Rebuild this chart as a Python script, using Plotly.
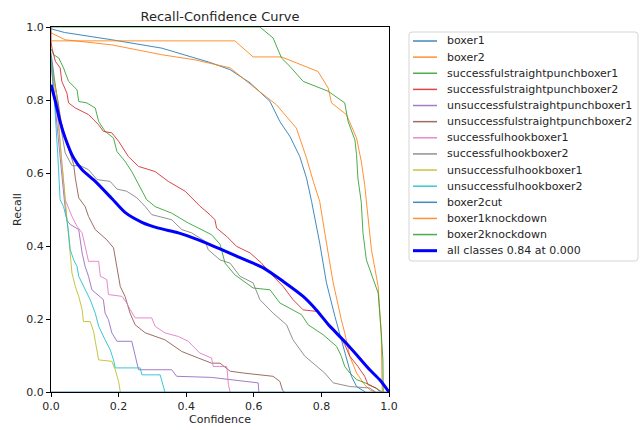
import plotly.graph_objects as go

# ---------------- data ----------------
class_names = [
    "boxer1", "boxer2", "successfulstraightpunchboxer1", "successfulstraightpunchboxer2",
    "unsuccessfulstraightpunchboxer1", "unsuccessfulstraightpunchboxer2",
    "successfulhookboxer1", "successfulhookboxer2", "unsuccessfulhookboxer1",
    "unsuccessfulhookboxer2", "boxer2cut", "boxer1knockdown", "boxer2knockdown",
]
all_label = "all classes 0.84 at 0.000"

boxer1_x = [0, 0.04, 0.18, 0.328, 0.426, 0.47, 0.53, 0.589, 0.648, 0.677, 0.707, 0.736, 0.756, 0.771,
            0.795, 0.815, 0.840, 0.859, 0.874, 0.889, 0.904, 0.92, 0.93]
boxer1_y = [0.995, 0.985, 0.965, 0.942, 0.915, 0.903, 0.883, 0.847, 0.796, 0.741, 0.700, 0.645, 0.586, 0.522,
            0.408, 0.299, 0.207, 0.143, 0.088, 0.043, 0.015, 0.005, 0.0]

boxer2_x = [0, 0.042, 0.18, 0.328, 0.426, 0.47, 0.53, 0.598, 0.667, 0.726, 0.756, 0.776, 0.795,
            0.815, 0.835, 0.859, 0.869, 0.884, 0.904, 0.928, 0.945, 0.96]
boxer2_y = [0.984, 0.965, 0.951, 0.924, 0.910, 0.901, 0.888, 0.837, 0.787, 0.723, 0.641, 0.577, 0.522,
            0.408, 0.299, 0.198, 0.162, 0.098, 0.052, 0.02, 0.005, 0.0]

ssp1_x = [0, 0.008, 0.023, 0.037, 0.052, 0.077, 0.082, 0.106, 0.131, 0.141, 0.160, 0.185, 0.195, 0.219,
          0.239, 0.254, 0.269, 0.283, 0.308, 0.357, 0.406, 0.446, 0.475, 0.50, 0.515, 0.544, 0.598, 0.648,
          0.677, 0.741, 0.761, 0.805, 0.845, 0.859, 0.869, 0.884, 0.904, 0.943, 0.97, 0.98]
ssp1_y = [0.94, 0.924, 0.915, 0.888, 0.851, 0.828, 0.796, 0.792, 0.778, 0.741, 0.714, 0.696, 0.659, 0.632,
          0.604, 0.577, 0.554, 0.527, 0.508, 0.490, 0.463, 0.445, 0.431, 0.405, 0.353, 0.321, 0.285, 0.280,
          0.244, 0.212, 0.184, 0.157, 0.125, 0.098, 0.070, 0.052, 0.034, 0.02, 0.005, 0.0]

ssp2_x = [0, 0, 0.003, 0.013, 0.027, 0.032, 0.047, 0.052, 0.072, 0.111, 0.141, 0.155, 0.180, 0.200, 0.229,
          0.259, 0.308, 0.347, 0.397, 0.421, 0.441, 0.47, 0.485, 0.49, 0.52, 0.549, 0.589, 0.623, 0.648,
          0.687, 0.716, 0.746, 0.785, 0.810, 0.845, 0.869, 0.884, 0.908, 0.928, 0.938, 0.962, 0.975]
ssp2_y = [1.0, 0.96, 0.942, 0.906, 0.888, 0.851, 0.819, 0.792, 0.778, 0.760, 0.732, 0.714, 0.710, 0.687, 0.645,
          0.618, 0.604, 0.577, 0.550, 0.527, 0.509, 0.486, 0.472, 0.449, 0.426, 0.399, 0.381, 0.353, 0.326,
          0.289, 0.253, 0.225, 0.221, 0.198, 0.166, 0.130, 0.098, 0.070, 0.043, 0.02, 0.011, 0.0]

ussp1_x = [0, 0.01, 0.02, 0.03, 0.04, 0.047, 0.057, 0.082, 0.087, 0.092, 0.101, 0.111, 0.121, 0.136, 0.155,
           0.160, 0.170, 0.180, 0.195, 0.239, 0.249, 0.259, 0.357, 0.372, 0.475, 0.613, 0.615]
ussp1_y = [0.9, 0.8, 0.7, 0.6, 0.52, 0.47, 0.459, 0.445, 0.413, 0.381, 0.344, 0.317, 0.280, 0.267, 0.253,
           0.216, 0.198, 0.162, 0.139, 0.139, 0.098, 0.061, 0.061, 0.043, 0.04, 0.025, 0.0]

ussp2_x = [0, 0.008, 0.02, 0.03, 0.042, 0.052, 0.067, 0.072, 0.082, 0.101, 0.111, 0.131, 0.165, 0.185,
           0.195, 0.205, 0.219, 0.234, 0.249, 0.279, 0.337, 0.387, 0.436, 0.475, 0.5, 0.53, 0.569, 0.628,
           0.657, 0.677, 0.685, 0.69]
ussp2_y = [0.92, 0.86, 0.80, 0.74, 0.696, 0.668, 0.623, 0.586, 0.532, 0.508, 0.481, 0.445, 0.417, 0.395,
           0.344, 0.289, 0.262, 0.216, 0.184, 0.162, 0.143, 0.111, 0.093, 0.079, 0.079, 0.057, 0.052, 0.047,
           0.043, 0.029, 0.005, 0.0]

shb1_x = [0, 0.02, 0.035, 0.042, 0.062, 0.077, 0.092, 0.101, 0.111, 0.141, 0.146, 0.165, 0.170, 0.210,
          0.224, 0.234, 0.249, 0.298, 0.308, 0.337, 0.377, 0.406, 0.44, 0.475, 0.48, 0.52, 0.525, 0.53]
shb1_y = [0.9, 0.75, 0.6, 0.527, 0.481, 0.454, 0.436, 0.399, 0.358, 0.358, 0.317, 0.308, 0.267, 0.262,
          0.244, 0.226, 0.203, 0.203, 0.180, 0.162, 0.152, 0.139, 0.107, 0.093, 0.070, 0.070, 0.02, 0.0]

shb2_x = [0, 0.01, 0.02, 0.03, 0.042, 0.062, 0.087, 0.111, 0.136, 0.175, 0.195, 0.224, 0.254, 0.279,
          0.298, 0.357, 0.387, 0.416, 0.456, 0.465, 0.50, 0.53, 0.559, 0.598, 0.618, 0.657, 0.697, 0.716,
          0.751, 0.776, 0.810, 0.835, 0.884, 0.943, 0.96]
shb2_y = [0.93, 0.86, 0.78, 0.72, 0.655, 0.620, 0.620, 0.609, 0.582, 0.577, 0.556, 0.550, 0.532, 0.508,
          0.486, 0.472, 0.445, 0.436, 0.413, 0.39, 0.362, 0.353, 0.317, 0.299, 0.253, 0.216, 0.184, 0.143,
          0.098, 0.079, 0.052, 0.025, 0.015, 0.011, 0.0]

ushb1_x = [0, 0.017, 0.03, 0.042, 0.047, 0.052, 0.057, 0.062, 0.072, 0.082, 0.092, 0.096, 0.116, 0.126,
           0.131, 0.141, 0.180, 0.190, 0.200, 0.205]
ushb1_y = [0.9, 0.81, 0.65, 0.527, 0.472, 0.417, 0.372, 0.326, 0.289, 0.262, 0.226, 0.193, 0.193, 0.166,
           0.139, 0.088, 0.084, 0.061, 0.029, 0.0]

ushb2_x = [0, 0.01, 0.02, 0.027, 0.037, 0.047, 0.052, 0.057, 0.067, 0.077, 0.082, 0.101, 0.116, 0.131,
           0.141, 0.160, 0.175, 0.185, 0.190, 0.264, 0.269, 0.323, 0.337]
ushb2_y = [0.92, 0.8, 0.65, 0.527, 0.508, 0.472, 0.436, 0.390, 0.362, 0.344, 0.317, 0.280, 0.253, 0.216,
           0.180, 0.143, 0.116, 0.088, 0.066, 0.066, 0.047, 0.047, 0.0]

boxer2cut_x = [0, 1.0]
boxer2cut_y = [0.0, 0.0]

b1kd_x = [0, 0.544, 0.598, 0.682, 0.790, 0.820, 0.830, 0.874, 0.904, 0.918, 0.928, 0.933, 0.948, 0.968,
          0.977, 0.98]
b1kd_y = [0.962, 0.962, 0.918, 0.918, 0.878, 0.833, 0.792, 0.760, 0.696, 0.632, 0.568, 0.52, 0.390, 0.289,
          0.162, 0.0]

b2kd_x = [0, 0.618, 0.657, 0.682, 0.707, 0.746, 0.820, 0.869, 0.879, 0.899, 0.904, 0.908, 0.918, 0.923,
          0.933, 0.958, 0.968, 0.977, 0.982, 0.983]
b2kd_y = [1.0, 1.0, 0.970, 0.915, 0.892, 0.851, 0.824, 0.792, 0.741, 0.691, 0.650, 0.586, 0.52, 0.436,
          0.362, 0.299, 0.271, 0.162, 0.088, 0.0]

all_x = [0, 0.013, 0.027, 0.042, 0.067, 0.092, 0.131, 0.180, 0.219, 0.269, 0.318, 0.377, 0.436, 0.47, 0.5,
         0.549, 0.628, 0.687, 0.746, 0.785, 0.825, 0.864, 0.904, 0.943, 0.972, 1.0]
all_y = [0.842, 0.796, 0.741, 0.696, 0.641, 0.609, 0.577, 0.530, 0.492, 0.465, 0.449, 0.436, 0.417, 0.404,
         0.392, 0.372, 0.340, 0.303, 0.262, 0.225, 0.180, 0.143, 0.102, 0.061, 0.034, 0.0]

tick_vals = [0.0, 0.2, 0.4, 0.6, 0.8, 1.0]

# ---------------- styling ----------------
series = [
    (boxer1_x, boxer1_y), (boxer2_x, boxer2_y), (ssp1_x, ssp1_y), (ssp2_x, ssp2_y),
    (ussp1_x, ussp1_y), (ussp2_x, ussp2_y), (shb1_x, shb1_y), (shb2_x, shb2_y),
    (ushb1_x, ushb1_y), (ushb2_x, ushb2_y), (boxer2cut_x, boxer2cut_y), (b1kd_x, b1kd_y),
    (b2kd_x, b2kd_y),
]
tab10 = ["#1f77b4", "#ff7f0e", "#2ca02c", "#d62728", "#9467bd", "#8c564b",
         "#e377c2", "#7f7f7f", "#bcbd22", "#17becf"]
colors = [tab10[i % 10] for i in range(len(class_names))]

W, H = 643, 430
ML, MR, MT, MB = 51, 254, 27, 38
PW, PH = W - ML - MR, H - MT - MB
FONT = "DejaVu Sans, sans-serif"
TXT = "#262626"


def px_x(px):
    return (px - ML) / PW


def px_y(py):
    return (H - MB - py) / PH


fig = go.Figure()
for (xs, ys), name, col in zip(series, class_names, colors):
    fig.add_trace(go.Scatter(x=xs, y=ys, mode="lines", name=name,
                             line=dict(color=col, width=1), opacity=0.85, showlegend=False))
fig.add_trace(go.Scatter(x=all_x, y=all_y, mode="lines", name=all_label,
                         line=dict(color="#0000ff", width=3, shape="spline", smoothing=0.6),
                         showlegend=False))

# ---------------- custom legend (matplotlib-like spacing) ----------------
shapes = []
annotations = []
box_l, box_r, box_t, box_b, rad = 409, 638, 32, 261, 3
x0, x1 = px_x(box_l), px_x(box_r)
y0, y1 = px_y(box_b), px_y(box_t)
rx, ry = rad / PW, rad / PH
path = (f"M {x0 + rx},{y1} L {x1 - rx},{y1} Q {x1},{y1} {x1},{y1 - ry} "
        f"L {x1},{y0 + ry} Q {x1},{y0} {x1 - rx},{y0} L {x0 + rx},{y0} Q {x0},{y0} {x0},{y0 + ry} "
        f"L {x0},{y1 - ry} Q {x0},{y1} {x0 + rx},{y1} Z")
shapes.append(dict(type="path", xref="paper", yref="paper", path=path,
                   line=dict(color="#d5d5d5", width=1), fillcolor="white", layer="above"))
labels = class_names + [all_label]
lcolors = colors + ["#0000ff"]
lwidths = [1.5] * len(class_names) + [3]
row0, dy = 41.0, 16.13
for i, (lab, c, lw) in enumerate(zip(labels, lcolors, lwidths)):
    yy = row0 + i * dy
    shapes.append(dict(type="line", xref="paper", yref="paper",
                       x0=px_x(413), x1=px_x(437), y0=px_y(yy), y1=px_y(yy),
                       line=dict(color=c, width=lw), opacity=0.85 if lw < 2 else 1, layer="above"))
    annotations.append(dict(text=lab, xref="paper", yref="paper", x=px_x(445), y=px_y(yy),
                            xanchor="left", yanchor="middle", showarrow=False,
                            font=dict(family=FONT, size=11, color=TXT)))

axis_common = dict(range=[0, 1], tickvals=tick_vals, tickformat=".1f", showgrid=False, zeroline=False,
                   showline=True, mirror=True, linecolor="#000000", linewidth=1,
                   ticks="outside", ticklen=4, tickwidth=1, tickcolor="#000000",
                   tickfont=dict(family=FONT, size=11, color=TXT))

fig.update_layout(
    width=W, height=H,
    margin=dict(l=ML, r=MR, t=MT, b=MB, autoexpand=False),
    paper_bgcolor="white", plot_bgcolor="white",
    title=dict(text="Recall-Confidence Curve", x=px_x(220), xref="paper", xanchor="center",
               y=1 - 16 / H, yref="container", yanchor="middle",
               font=dict(family=FONT, size=13, color=TXT)),
    xaxis=dict(title=dict(text="Confidence", standoff=3, font=dict(family=FONT, size=11, color=TXT)),
               **axis_common),
    yaxis=dict(title=dict(text="Recall", standoff=2, font=dict(family=FONT, size=11, color=TXT)),
               **axis_common),
    shapes=shapes, annotations=annotations, showlegend=False,
)

fig.write_html("out.html")
